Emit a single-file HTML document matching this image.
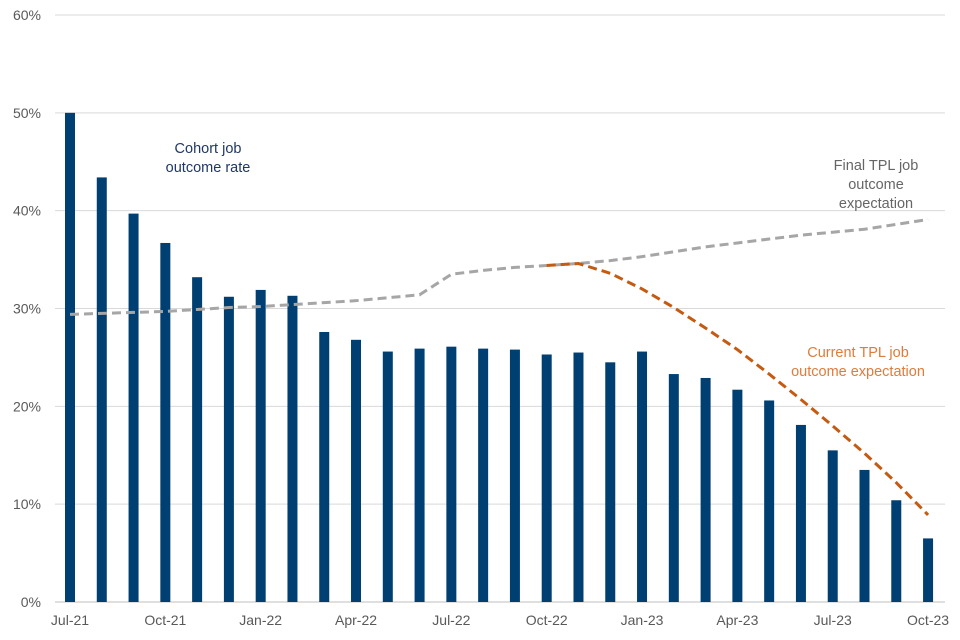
<!DOCTYPE html>
<html><head><meta charset="utf-8"><style>
body{margin:0;background:#fff;}
svg{display:block;font-family:"Liberation Sans",sans-serif;}
</style></head><body>
<svg id="chart" width="960" height="640"></svg>
<script>
const categories=["Jul-21","Aug-21","Sep-21","Oct-21","Nov-21","Dec-21","Jan-22","Feb-22","Mar-22","Apr-22","May-22","Jun-22","Jul-22","Aug-22","Sep-22","Oct-22","Nov-22","Dec-22","Jan-23","Feb-23","Mar-23","Apr-23","May-23","Jun-23","Jul-23","Aug-23","Sep-23","Oct-23"];
const cohortRate=[50.0,43.4,39.7,36.7,33.2,31.2,31.9,31.3,27.6,26.8,25.6,25.9,26.1,25.9,25.8,25.3,25.5,24.5,25.6,23.3,22.9,21.7,20.6,18.1,15.5,13.5,10.4,6.5];
const finalTPL=[29.4,29.5,29.6,29.7,29.9,30.1,30.2,30.4,30.6,30.8,31.1,31.4,33.5,33.9,34.2,34.4,34.6,34.9,35.3,35.8,36.3,36.7,37.1,37.5,37.8,38.1,38.6,39.1];
const currentTPL=[null,null,null,null,null,null,null,null,null,null,null,null,null,null,null,34.4,34.6,33.6,32.0,30.1,28.0,25.8,23.3,20.7,18.0,15.2,12.2,8.9];
const yTicks=[0,10,20,30,40,50,60];
const xTickLabels=["Jul-21","Oct-21","Jan-22","Apr-22","Jul-22","Oct-22","Jan-23","Apr-23","Jul-23","Oct-23"];

const svg=document.getElementById('chart');
const NS='http://www.w3.org/2000/svg';
const y=v=>602-v*9.783;
const x=i=>70+i*31.78;
function mk(tag,attrs,name,parent){const e=document.createElementNS(NS,tag);for(const k in attrs)e.setAttribute(k,attrs[k]);


(parent||svg).appendChild(e);return e;}
yTicks.forEach(t=>{
  mk('line',{x1:55,x2:945,y1:y(t),y2:y(t),stroke:t===0?'#bfbfbf':'#d9d9d9','stroke-width':1},'gridline-'+t);
  const tx=mk('text',{x:41,y:y(t)+5,'text-anchor':'end','font-size':14,fill:'#595959'},'y-tick-'+t);
  tx.textContent=t+'%';
});
xTickLabels.forEach(l=>{
  const i=categories.indexOf(l);
  const tx=mk('text',{x:x(i),y:625,'text-anchor':'middle','font-size':14,fill:'#595959'},'x-tick-'+l);
  tx.textContent=l;
});
cohortRate.forEach((v,i)=>{
  mk('rect',{x:x(i)-5,y:y(v),width:10,height:y(0)-y(v),fill:'#003f72'},'bar-'+categories[i]);
});
function path(arr){let d='';arr.forEach((v,i)=>{if(v==null)return;d+=(d?'L':'M')+x(i)+','+y(v);});return d;}
mk('path',{d:path(finalTPL),fill:'none',stroke:'#a6a6a6','stroke-width':3,'stroke-dasharray':'9,5'},'final-tpl-line');
mk('path',{d:path(currentTPL),fill:'none',stroke:'#c55a11','stroke-width':3,'stroke-dasharray':'9,5'},'current-tpl-line');
function label(lines,cx,y0,color,name){
  const t=mk('text',{'text-anchor':'middle','font-size':14.5,fill:color},name);
  lines.forEach((s,k)=>{const ts=document.createElementNS(NS,'tspan');ts.setAttribute('x',cx);ts.setAttribute('y',y0+k*19);ts.textContent=s;t.appendChild(ts);});
}
label(['Cohort job','outcome rate'],208,153,'#1f3864','cohort-label');
label(['Final TPL job','outcome','expectation'],876,170,'#666666','final-tpl-label');
label(['Current TPL job','outcome expectation'],858,357,'#e07b39','current-tpl-label');
</script>
</body></html>
